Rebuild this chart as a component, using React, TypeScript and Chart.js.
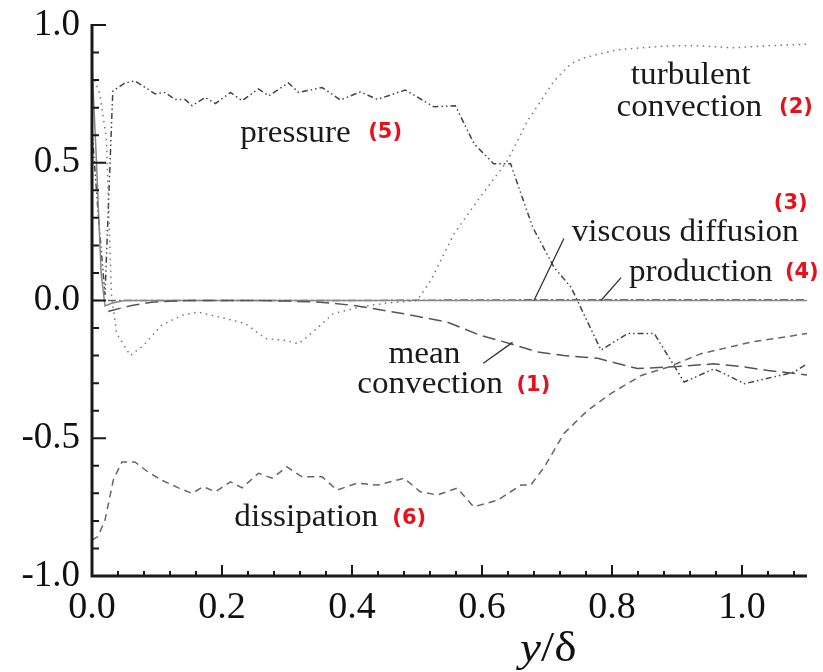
import React, { useEffect, useRef } from "react";
import { Chart, registerables } from "chart.js";
Chart.register(...registerables);

// ---- axis ticks ----
const xTicks = [0, 0.2, 0.4, 0.6, 0.8, 1.0];
const yTicks = [-1.0, -0.5, 0.0, 0.5, 1.0];
const xMinor = [0.04, 0.08, 0.12, 0.16, 0.24, 0.28, 0.32, 0.36, 0.44, 0.48, 0.52, 0.56, 0.64, 0.68, 0.72, 0.76, 0.84, 0.88, 0.92, 0.96, 1.04, 1.08];
const yMinor = [-0.9, -0.8, -0.7, -0.6, -0.4, -0.3, -0.2, -0.1, 0.1, 0.2, 0.3, 0.4, 0.6, 0.7, 0.8, 0.9];

// ---- series (x = y/delta) ----
const meanConvX = [0.025, 0.03, 0.061, 0.092, 0.15, 0.2, 0.25, 0.3, 0.351, 0.403, 0.48, 0.547, 0.598, 0.644, 0.685, 0.726, 0.778, 0.839, 0.9, 0.957, 1.0, 1.04, 1.1];
const meanConvY = [-0.04, -0.036, -0.018, -0.006, 0, 0, 0, -0.002, -0.006, -0.018, -0.048, -0.079, -0.127, -0.157, -0.187, -0.2, -0.21, -0.247, -0.24, -0.23, -0.24, -0.254, -0.27];

const turbConvX = [0.004, 0.012, 0.022, 0.03, 0.038, 0.059, 0.079, 0.107, 0.138, 0.163, 0.205, 0.236, 0.267, 0.297, 0.318, 0.348, 0.371, 0.41, 0.45, 0.5, 0.521, 0.557, 0.593, 0.639, 0.67, 0.711, 0.737, 0.757, 0.78, 0.809, 0.85, 0.886, 0.93, 0.988, 1.04, 1.1];
const turbConvY = [0.8, 0.75, 0.59, 0.02, -0.12, -0.2, -0.163, -0.09, -0.054, -0.042, -0.065, -0.084, -0.138, -0.145, -0.157, -0.097, -0.048, -0.025, -0.01, 0.0, 0.072, 0.242, 0.362, 0.507, 0.652, 0.797, 0.86, 0.88, 0.895, 0.91, 0.918, 0.924, 0.925, 0.917, 0.925, 0.93];

const viscDiffX = [0, 0.006, 0.014, 0.02, 0.03, 0.05, 0.3, 0.6, 0.9, 1.1];
const viscDiffY = [0.86, 0.55, 0.1, -0.02, -0.01, 0, 0, 0, 0, 0];

const productionX = [0, 0.2, 0.4, 0.6, 0.8, 1.0, 1.1];
const productionY = [0, 0, 0, 0.002, 0.003, 0.003, 0.003];

const pressureX = [0, 0.01, 0.02, 0.032, 0.051, 0.066, 0.082, 0.097, 0.112, 0.128, 0.143, 0.154, 0.174, 0.19, 0.213, 0.231, 0.256, 0.272, 0.302, 0.318, 0.354, 0.382, 0.413, 0.439, 0.482, 0.526, 0.559, 0.588, 0.618, 0.644, 0.678, 0.711, 0.737, 0.783, 0.824, 0.865, 0.911, 0.957, 1.004, 1.08, 1.1];
const pressureY = [0.62, 0.3, 0.02, 0.76, 0.79, 0.797, 0.773, 0.75, 0.755, 0.73, 0.73, 0.707, 0.737, 0.715, 0.755, 0.725, 0.768, 0.743, 0.79, 0.755, 0.773, 0.728, 0.757, 0.73, 0.764, 0.703, 0.707, 0.568, 0.496, 0.496, 0.266, 0.12, 0.048, -0.18, -0.12, -0.12, -0.296, -0.248, -0.302, -0.26, -0.23];

const dissipX = [0, 0.009, 0.02, 0.033, 0.046, 0.066, 0.086, 0.107, 0.133, 0.154, 0.171, 0.19, 0.213, 0.231, 0.256, 0.277, 0.3, 0.323, 0.354, 0.377, 0.408, 0.439, 0.48, 0.505, 0.531, 0.562, 0.587, 0.624, 0.66, 0.675, 0.696, 0.726, 0.762, 0.798, 0.845, 0.886, 0.937, 1.014, 1.1];
const dissipY = [-0.87, -0.857, -0.797, -0.65, -0.586, -0.586, -0.622, -0.652, -0.68, -0.7, -0.676, -0.694, -0.658, -0.68, -0.627, -0.645, -0.604, -0.64, -0.64, -0.688, -0.663, -0.67, -0.645, -0.694, -0.706, -0.681, -0.749, -0.725, -0.67, -0.67, -0.604, -0.483, -0.4, -0.338, -0.272, -0.242, -0.193, -0.151, -0.12];

// ---- annotation labels (data coords) ----
const labelTexts = ["pressure", "turbulent", "convection", "viscous diffusion", "production", "mean", "convection", "dissipation"];
const labelX = [0.228, 0.829, 0.807, 0.738, 0.826, 0.456, 0.408, 0.219];
const labelY = [0.605, 0.815, 0.70, 0.246, 0.101, -0.199, -0.308, -0.79];
const tagTexts = ["(5)", "(2)", "(3)", "(4)", "(1)", "(6)"];
const tagX = [0.425, 1.057, 1.049, 1.066, 0.653, 0.462];
const tagY = [0.61, 0.70, 0.351, 0.101, -0.308, -0.79];
const leaderX1 = [0.726, 0.814, 0.602];
const leaderY1 = [0.225, 0.083, -0.228];
const leaderX2 = [0.68, 0.783, 0.647];
const leaderY2 = [0.0, 0.0, -0.152];

const zip = (xs: number[], ys: number[]) => xs.map((x, i) => ({ x, y: ys[i] }));

const SERIF = '"Liberation Serif", "Times New Roman", serif';
const STRETCH = 1.07;

const decor = {
  id: "decor",
  afterDraw(chart: any) {
    const { ctx, chartArea: a, scales } = chart;
    const sx = scales.x, sy = scales.y;
    ctx.save();
    ctx.strokeStyle = "#1a1a1a";
    ctx.lineCap = "butt";
    // axis lines
    ctx.lineWidth = 3;
    ctx.beginPath();
    ctx.moveTo(a.left, a.top - 1);
    ctx.lineTo(a.left, a.bottom);
    ctx.lineTo(a.right, a.bottom);
    ctx.stroke();
    // ticks
    ctx.lineWidth = 2;
    ctx.beginPath();
    yTicks.forEach((v) => {
      const p = sy.getPixelForValue(v);
      ctx.moveTo(a.left, p);
      ctx.lineTo(a.left + 14, p);
    });
    yMinor.forEach((v) => {
      const p = sy.getPixelForValue(v);
      ctx.moveTo(a.left, p);
      ctx.lineTo(a.left + 7, p);
    });
    xTicks.forEach((v) => {
      const p = sx.getPixelForValue(v);
      ctx.moveTo(p, a.bottom);
      ctx.lineTo(p, a.bottom - 11);
    });
    xMinor.forEach((v) => {
      const p = sx.getPixelForValue(v);
      ctx.moveTo(p, a.bottom);
      ctx.lineTo(p, a.bottom - 5);
    });
    ctx.stroke();

    // leader lines
    ctx.strokeStyle = "#333";
    ctx.lineWidth = 1.3;
    ctx.beginPath();
    leaderX1.forEach((_, i) => {
      ctx.moveTo(sx.getPixelForValue(leaderX1[i]), sy.getPixelForValue(leaderY1[i]));
      ctx.lineTo(sx.getPixelForValue(leaderX2[i]), sy.getPixelForValue(leaderY2[i]));
    });
    ctx.stroke();

    // labels
    ctx.textBaseline = "middle";
    ctx.textAlign = "left";
    ctx.fillStyle = "#1a1a1a";
    ctx.font = `31px ${SERIF}`;
    labelTexts.forEach((t, i) => {
      ctx.save();
      ctx.translate(sx.getPixelForValue(labelX[i]), sy.getPixelForValue(labelY[i]));
      ctx.scale(STRETCH, 1);
      ctx.fillText(t, 0, 0);
      ctx.restore();
    });
    ctx.fillStyle = "#e8101a";
    ctx.font = `bold 21px "DejaVu Sans", sans-serif`;
    tagTexts.forEach((t, i) => {
      ctx.fillText(t, sx.getPixelForValue(tagX[i]), sy.getPixelForValue(tagY[i]));
    });

    // axis title y/δ
    ctx.fillStyle = "#111";
    ctx.textBaseline = "alphabetic";
    const cx = sx.getPixelForValue(0.702);
    ctx.font = `italic 43px ${SERIF}`;
    const w1 = ctx.measureText("y").width;
    ctx.font = `43px ${SERIF}`;
    const w2 = ctx.measureText("/δ").width;
    const sw = 1.1;
    const left = cx - ((w1 + w2) * sw) / 2;
    ctx.translate(left, 661);
    ctx.scale(sw, 1);
    ctx.font = `italic 43px ${SERIF}`;
    ctx.fillText("y", 0, 0);
    ctx.font = `43px ${SERIF}`;
    ctx.fillText("/δ", w1, 0);
    ctx.restore();
  },
};

export default function App() {
  const ref = useRef<HTMLCanvasElement | null>(null);
  useEffect(() => {
    if (!ref.current) return;
    const common = { pointRadius: 0, borderWidth: 1.5, fill: false, tension: 0 };
    const chart = new Chart(ref.current, {
      type: "line",
      data: {
        datasets: [
          { label: "mean convection (1)", data: zip(meanConvX, meanConvY), borderColor: "#555", borderDash: [13, 6], ...common },
          { label: "turbulent convection (2)", data: zip(turbConvX, turbConvY), borderColor: "#777", borderDash: [1.5, 4.5], ...common },
          { label: "viscous diffusion (3)", data: zip(viscDiffX, viscDiffY), borderColor: "#888", ...common },
          { label: "production (4)", data: zip(productionX, productionY), borderColor: "#666", borderDash: [8, 3, 2, 3], ...common },
          { label: "pressure (5)", data: zip(pressureX, pressureY), borderColor: "#444", borderDash: [6, 3, 1.5, 3, 1.5, 3], ...common },
          { label: "dissipation (6)", data: zip(dissipX, dissipY), borderColor: "#666", borderDash: [7, 5], ...common },
        ],
      },
      options: {
        animation: false,
        responsive: false,
        layout: { padding: { left: 0, top: 25, right: 16, bottom: 0 } },
        plugins: { legend: { display: false }, tooltip: { enabled: false } },
        scales: {
          x: {
            type: "linear",
            min: 0,
            max: 1.1,
            grid: { display: false, drawTicks: false },
            border: { display: false },
            afterBuildTicks: (s: any) => { s.ticks = xTicks.map((v) => ({ value: v })); },
            afterFit: (s: any) => { s.height = 96; s.paddingLeft = 0; s.paddingRight = 0; },
            ticks: {
              color: "#111",
              padding: 9,
              maxRotation: 0,
              autoSkip: false,
              font: { family: SERIF, size: 38 },
              callback: (v: any) => Number(v).toFixed(1),
            },
          },
          y: {
            type: "linear",
            min: -1,
            max: 1,
            grid: { display: false, drawTicks: false },
            border: { display: false },
            afterBuildTicks: (s: any) => { s.ticks = yTicks.map((v) => ({ value: v })); },
            afterFit: (s: any) => { s.width = 92; s.paddingTop = 0; s.paddingBottom = 0; },
            ticks: {
              color: "#111",
              padding: 12,
              autoSkip: false,
              font: { family: SERIF, size: 37 },
              callback: (v: any) => Number(v).toFixed(1),
            },
          },
        },
      },
      plugins: [decor],
    });
    return () => chart.destroy();
  }, []);
  return (
    <div style={{ position: "fixed", left: 0, top: 0, width: 823, height: 672, background: "#fff" }}>
      <canvas ref={ref} width={823} height={672} style={{ display: "block" }} />
    </div>
  );
}
